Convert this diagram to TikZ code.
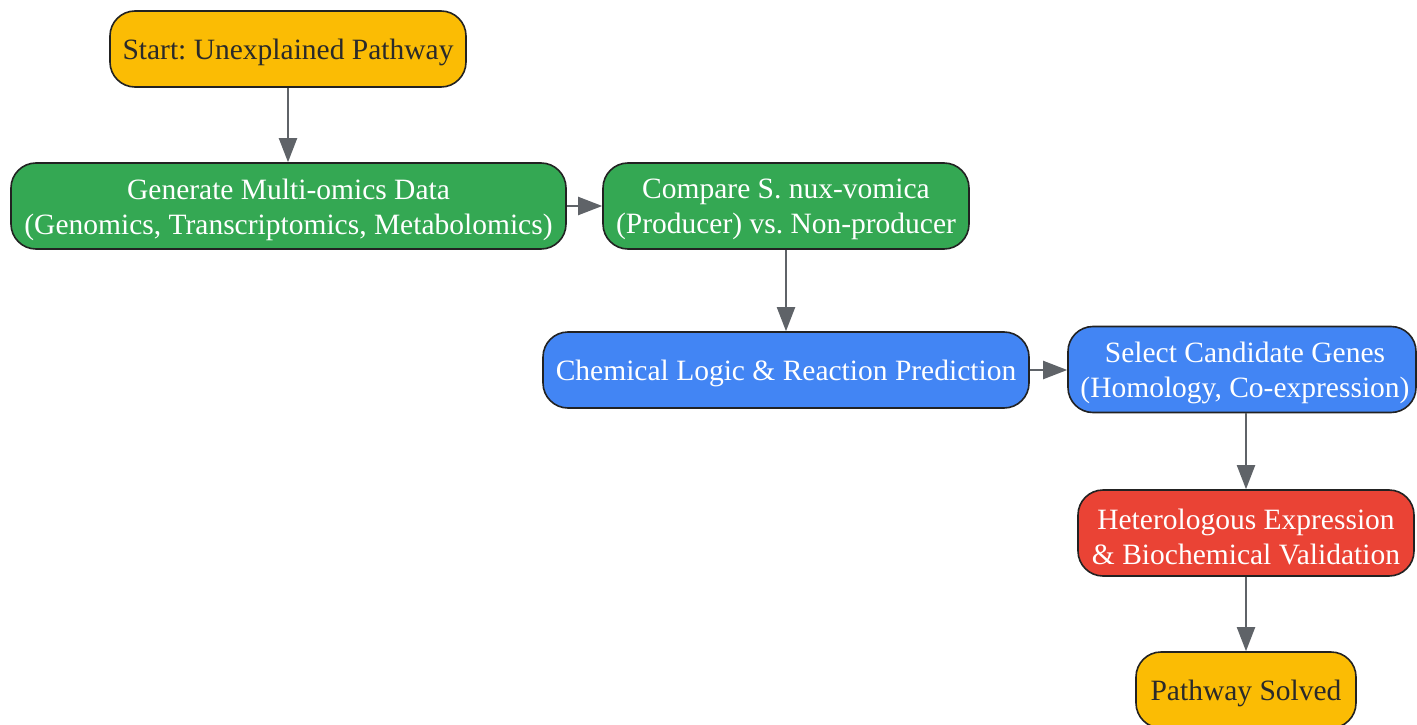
\documentclass[tikz,border=0pt]{standalone}
\usepackage{fontspec}
\setmainfont{Liberation Serif}
\usetikzlibrary{arrows.meta}
\definecolor{gyellow}{HTML}{FBBC04}
\definecolor{ggreen}{HTML}{34A853}
\definecolor{gblue}{HTML}{4285F4}
\definecolor{gred}{HTML}{EA4335}
\definecolor{edgec}{HTML}{222222}
\definecolor{darktext}{HTML}{2A2A2A}
\definecolor{arrowc}{HTML}{5F6368}
\tikzset{
  box/.style={draw=edgec, line width=1.6pt, rounded corners=25pt, inner sep=0pt},
  txt/.style={align=center, inner sep=0pt, font=\fontsize{29.5}{35}\selectfont\frenchspacing},
  ybox/.style={box, fill=gyellow},
  gbox/.style={box, fill=ggreen},
  bbox/.style={box, fill=gblue},
  rbox/.style={box, fill=gred},
  dtxt/.style={txt, text=darktext},
  wtxt/.style={txt, text=white},
  conn/.style={draw=arrowc, line width=2pt, -{Triangle[length=24pt,width=18pt]}, arrowc},
}
\begin{document}
\begin{tikzpicture}[x=1pt,y=1pt]
\useasboundingbox[fill=white] (0,0) rectangle (1417,-725);
\node[ybox, minimum width=356pt, minimum height=76pt] (start) at (288,-49) {};
\node[dtxt] (startT) at ([yshift=-3.5pt]start.center) {Start: Unexplained Pathway};
\node[gbox, minimum width=555pt, minimum height=86pt] (gen) at (288.5,-206) {};
\node[wtxt] (genT) at ([yshift=-3.5pt]gen.center) {Generate Multi-omics Data\\(Genomics, Transcriptomics, Metabolomics)};
\node[gbox, minimum width=366pt, minimum height=86pt] (cmp) at (786,-206) {};
\node[wtxt] (cmpT) at ([yshift=-3.5pt]cmp.center) {Compare S. nux-vomica\\(Producer) vs. Non-producer};
\node[bbox, minimum width=486pt, minimum height=76pt] (chem) at (786,-370) {};
\node[wtxt] (chemT) at ([yshift=-3.5pt]chem.center) {Chemical Logic \& Reaction Prediction};
\node[bbox, minimum width=348pt, minimum height=86pt] (sel) at (1242,-369.5) {};
\node[wtxt] (selT) at ([xshift=3pt,yshift=-3.5pt]sel.center) {Select Candidate Genes\\(Homology, Co-expression)};
\node[rbox, minimum width=336pt, minimum height=86pt] (het) at (1246,-533) {};
\node[wtxt] (hetT) at ([yshift=-3.5pt]het.center) {Heterologous Expression\\\& Biochemical Validation};
\node[ybox, minimum width=220pt, minimum height=76pt] (done) at (1246,-690) {};
\node[dtxt] (doneT) at ([yshift=-3.5pt]done.center) {Pathway Solved};
\draw[conn] (start.south) -- (start.south |- gen.north);
\draw[conn] (gen.east) -- (cmp.west);
\draw[conn] (cmp.south) -- (chem.north);
\draw[conn] (chem.east) -- (chem.east -| sel.west);
\draw[conn] (het.north |- sel.south) -- (het.north);
\draw[conn] (het.south) -- (done.north);
\end{tikzpicture}
\end{document}
